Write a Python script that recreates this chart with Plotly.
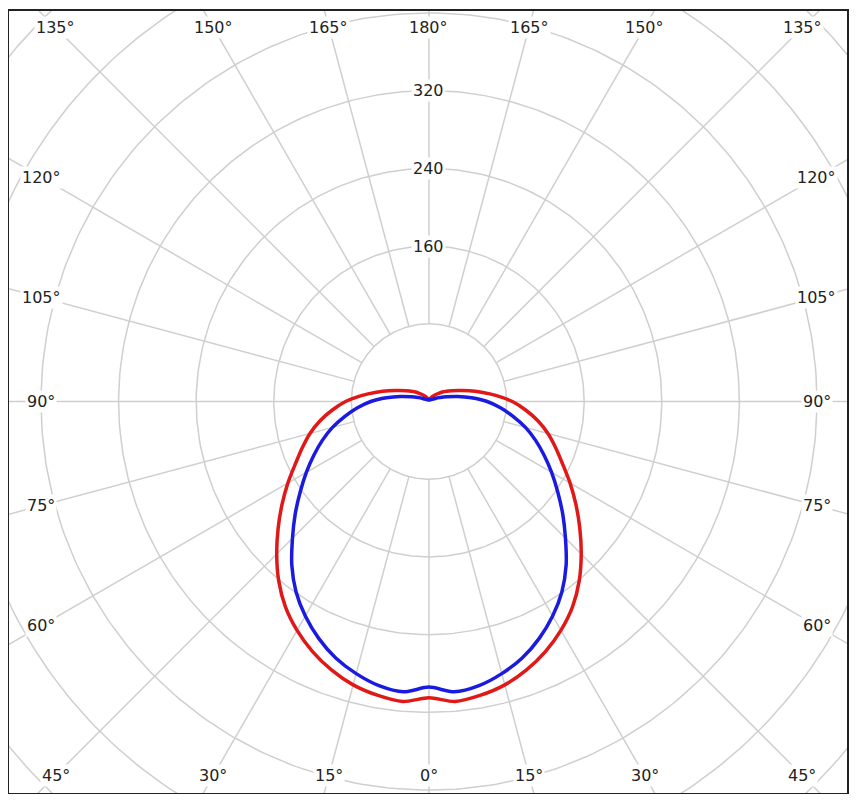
import numpy as np
import plotly.graph_objects as go

# luminous intensity (cd) per half-plane angle, symmetric
angles = [0, 5, 10, 15, 20, 25, 30, 35, 40, 45, 50, 55, 60, 65, 70, 75, 80, 85, 90,
          95, 100, 105, 110, 115, 120, 125, 130, 140, 150, 160, 170, 180]
red_vals = [305, 310, 307, 302, 294, 284, 272, 258, 241, 222, 203, 185, 168, 152, 139, 127, 114, 100, 86,
            70, 55, 43, 33, 26, 21, 17, 13, 8, 5, 3, 2, 2]
blue_vals = [294, 300, 297, 290, 281, 269, 255, 239, 220, 199, 180, 162, 146, 131, 117, 103, 88, 74, 60,
             44, 30, 19, 12, 8, 5, 4, 3, 2, 2, 2, 2, 2]
ring_values = [80, 160, 240, 320, 400, 480, 560, 640]
ring_labels = ["160", "240", "320"]
angle_labels = [0, 15, 30, 45, 60, 75, 90, 105, 120, 135, 150, 165, 180]


def to_xy(theta_deg, r):
    t = np.radians(theta_deg)
    return np.asarray(r) * np.sin(t), -np.asarray(r) * np.cos(t)


def full_curve(vals):
    th = np.array([-a for a in angles[::-1]] + angles[1:])
    r = np.array(vals[::-1] + vals[1:])
    return to_xy(th, r)


fig = go.Figure()

# grid: rings and rays
gx, gy = [], []
phi = np.linspace(0, 360, 361)
for rv in ring_values:
    x, y = to_xy(phi, rv)
    gx += list(x) + [None]
    gy += list(y) + [None]
for a in range(0, 360, 15):
    x, y = to_xy(a, [80, 800])
    gx += list(x) + [None]
    gy += list(y) + [None]
fig.add_trace(go.Scatter(x=gx, y=gy, mode="lines", line=dict(color="#cfcfcf", width=1.5),
                         hoverinfo="skip", showlegend=False))

for vals, col in [(red_vals, "#e01818"), (blue_vals, "#1a1ae0")]:
    x, y = full_curve(vals)
    fig.add_trace(go.Scatter(x=x, y=y, mode="lines",
                             line=dict(color=col, width=3.5, shape="spline", smoothing=0.8),
                             showlegend=False))

# angle labels placed where each ray meets an inset box
bx, by = 400, 385
for a in angle_labels:
    for s in ([1, -1] if a not in (0, 180) else [1]):
        t = np.radians(a)
        dx, dy = s * np.sin(t), -np.cos(t)
        k = min(bx / abs(dx) if abs(dx) > 1e-9 else 1e9, by / abs(dy) if abs(dy) > 1e-9 else 1e9)
        fig.add_annotation(x=dx * k, y=dy * k, text=f"{a}°", showarrow=False,
                           font=dict(size=16, color="#222"), bgcolor="white")

for lab in ring_labels:
    fig.add_annotation(x=0, y=int(lab), text=lab, showarrow=False,
                       font=dict(size=16, color="#222"), bgcolor="white")

fig.update_xaxes(range=[-433, 431], showgrid=False, zeroline=False,
                 showticklabels=False, ticks="", showline=True, mirror=True,
                 linecolor="#222", linewidth=2)
fig.update_yaxes(range=[-403, 402], showgrid=False, zeroline=False,
                 showticklabels=False, ticks="", showline=True, mirror=True,
                 linecolor="#222", linewidth=2)
fig.update_layout(width=842, height=786, margin=dict(l=1, r=1, t=1, b=1),
                  plot_bgcolor="white", paper_bgcolor="white",
                  font=dict(family="DejaVu Sans"))
fig.write_html("out.html")
